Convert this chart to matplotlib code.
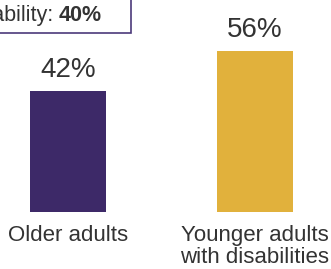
import matplotlib
matplotlib.use("Agg")
import matplotlib.pyplot as plt
from matplotlib.patches import Rectangle

categories = ["Older adults", "Younger adults\nwith disabilities"]
values = [42, 56]
bar_colors = ["#3d2968", "#e1b13c"]
overall_label = "With a disability: "
overall_value = "40%"

TEXT = "#333333"
plt.rcParams["font.family"] = ["Liberation Sans", "DejaVu Sans"]

W, H, DPI = 331, 269, 100
fig = plt.figure(figsize=(W / DPI, H / DPI), dpi=DPI)
base_px = 212
ax = fig.add_axes([0, (H - base_px) / H, 1, base_px / H])

x = [0, 1]
ax.bar(x, values, width=0.406, color=bar_colors)
ax.set_xlim(-68 / 187, (W - 68) / 187)
ax.set_ylim(0, base_px / 2.875)
for xi, v in zip(x, values):
    ax.annotate(f"{v}%", (xi, v), xytext=(0, 10), textcoords="offset points",
                ha="center", va="baseline", fontsize=20, color=TEXT)

ax.set_xticks(x)
ax.set_xticklabels(categories, fontsize=16, color=TEXT)
ax.tick_params(axis="x", length=0, pad=9.5)
for lab in ax.get_xticklabels():
    lab.set_linespacing(1.05)
ax.set_yticks([])
for s in ax.spines.values():
    s.set_visible(False)

# summary box at top left (cropped by figure edge)
fig.patches.append(Rectangle((-0.3, (H - 32.5) / H), 0.3 + 131 / W, 0.5,
                             transform=fig.transFigure, fill=False,
                             edgecolor="#4b3a7a", lw=1.2))
ty = (H - 21) / H
bold = fig.text(102 / W, ty, overall_value, ha="right", va="baseline",
                fontsize=15.5, fontweight="bold", color=TEXT)
r = fig.canvas.get_renderer()
bb = bold.get_window_extent(renderer=r)
fig.text(bb.x0 / W, ty, overall_label, ha="right", va="baseline",
         fontsize=15.5, color=TEXT)

fig.savefig("out.png", dpi=DPI)
